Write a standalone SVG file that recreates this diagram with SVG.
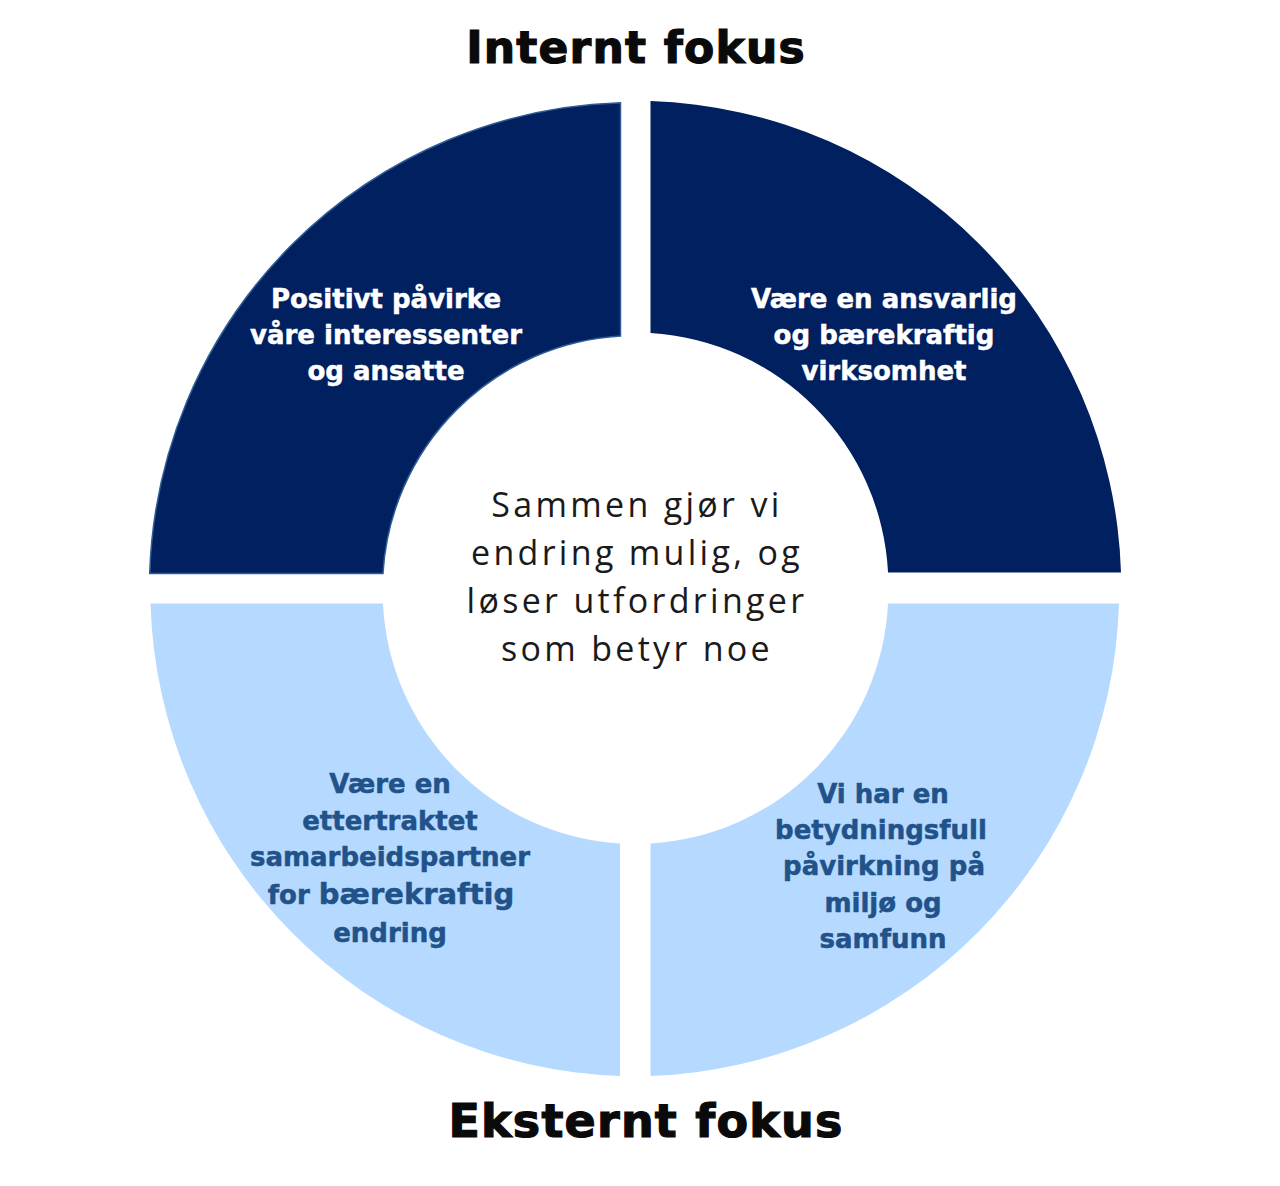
<svg xmlns="http://www.w3.org/2000/svg" width="1280" height="1186" viewBox="0 0 1280 1186">
<style>
.dark{fill:#012060}
.light{fill:#b6daff}
.title{font-family:"DejaVu Sans","Liberation Sans",sans-serif;font-weight:700;fill:#0a0a0a;stroke:#0a0a0a;stroke-width:1.2px;text-anchor:middle;letter-spacing:1.2px}
.lblw{font-family:"DejaVu Sans","Liberation Sans",sans-serif;font-weight:700;font-size:26px;fill:#fff;stroke:#fff;stroke-width:0.5px;text-anchor:middle}
.lblb{font-family:"DejaVu Sans","Liberation Sans",sans-serif;font-weight:700;font-size:26px;fill:#21528a;stroke:#21528a;stroke-width:0.5px;text-anchor:middle}
.center{font-family:"Open Sans","Liberation Sans",sans-serif;font-weight:400;font-size:34px;fill:#1a1a1a;text-anchor:middle;letter-spacing:3.3px}
</style>
<rect width="1280" height="1186" fill="#fff"/>
<g id="title-internt"><text class="title" x="636" y="63" font-size="44">Internt fokus</text></g>
<g id="q-top-left">
<path class="dark" stroke="#2f5c96" stroke-width="1.5" d="M 620.5 102.73 L 620.5 335.95 A 253 253 0 0 0 382.95 573.5 L 149.73 573.5 A 486 486 0 0 1 620.5 102.73 Z"/>
<text class="lblw" x="386" y="308">Positivt påvirke</text>
<text class="lblw" x="386" y="344">våre interessenter</text>
<text class="lblw" x="386" y="380">og ansatte</text>
</g>
<g id="q-top-right">
<path class="dark" d="M 650.5 101 A 487 487 0 0 1 1121 572.5 L 888.05 572.5 A 253 253 0 0 0 650.5 333 Z"/>
<text class="lblw" x="884" y="308">Være en ansvarlig</text>
<text class="lblw" x="884" y="344">og bærekraftig</text>
<text class="lblw" x="884" y="380">virksomhet</text>
</g>
<g id="q-bottom-left">
<path class="light" d="M 150.5 603.5 L 382.95 603.5 A 253 253 0 0 0 620 843.5 L 620 1076 A 487 487 0 0 1 150.5 603.5 Z"/>
<text class="lblb" x="390" y="793">Være en</text>
<text class="lblb" x="390" y="830">ettertraktet</text>
<text class="lblb" x="390" y="866">samarbeidspartner</text>
<text class="lblb" x="391" y="904"><tspan>for </tspan><tspan font-size="29">bærekraftig</tspan></text>
<text class="lblb" x="390" y="942">endring</text>
</g>
<g id="q-bottom-right">
<path class="light" d="M 650.5 843.5 A 253 253 0 0 0 888.05 603.5 L 1119 603.5 A 487 487 0 0 1 650.5 1076 Z"/>
<text class="lblb" x="883" y="803">Vi har en</text>
<text class="lblb" x="881" y="839">betydningsfull</text>
<text class="lblb" x="884" y="875">påvirkning på</text>
<text class="lblb" x="883" y="912">miljø og</text>
<text class="lblb" x="883" y="948">samfunn</text>
</g>
<g id="center-text">
<text class="center" x="637" y="517">Sammen gjør vi</text>
<text class="center" x="637" y="565">endring mulig, og</text>
<text class="center" x="637" y="613">løser utfordringer</text>
<text class="center" x="637" y="661">som betyr noe</text>
</g>
<g id="title-eksternt"><text class="title" x="646" y="1137" font-size="46">Eksternt fokus</text></g>
<g id="connectors"/>
</svg>
